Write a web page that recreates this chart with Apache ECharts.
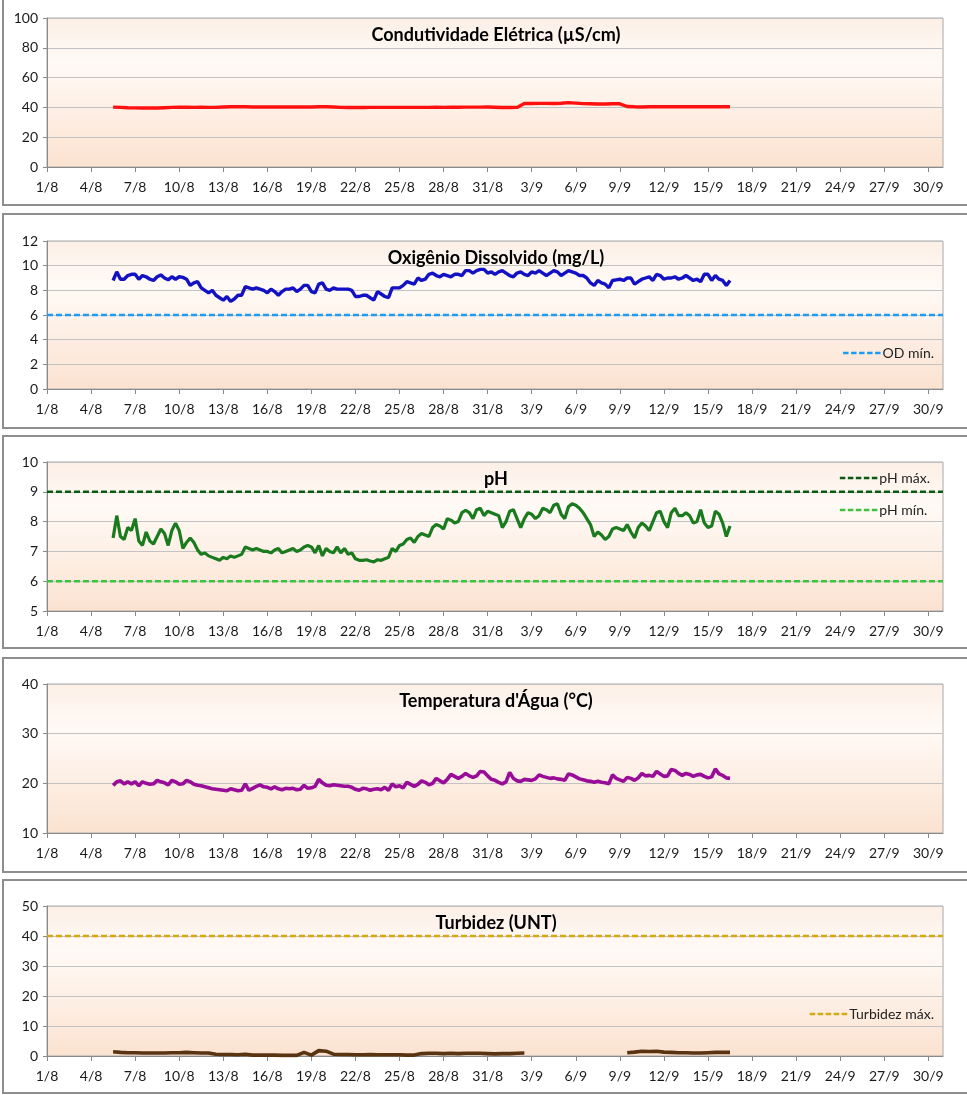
<!DOCTYPE html>
<html>
<head>
<meta charset="utf-8">
<script src="https://cdn.jsdelivr.net/npm/echarts@6/dist/echarts.min.js"></script>
<style>
html,body{margin:0;padding:0;background:#fff;}
#c{width:967px;height:1095px;}
</style>
</head>
<body>
<div id="c"></div>
<script>
// ---- Data (x = days since 1/8 00:00) ----
const X_MIN = 0, X_MAX = 61, X_INTERVAL = 3;
const X_TICK_LABELS = ['1/8','4/8','7/8','10/8','13/8','16/8','19/8','22/8','25/8','28/8','31/8','3/9','6/9','9/9','12/9','15/9','18/9','21/9','24/9','27/9','30/9'];

const TITLES = ['Condutividade Elétrica (µS/cm)','Oxigênio Dissolvido (mg/L)','pH',"Temperatura d'Água (°C)",'Turbidez (UNT)'];

// Conductivity: start day 4.5, every 0.5 day
const CE_START = 4.5, CE_STEP = 0.5;
const CE_VALUES = [
  40.2, 40.0, 39.8, 39.7, 39.6, 39.7, 39.6, 39.8, 40.0, 40.1,
  40.1, 40.0, 40.1, 40.0, 40.0, 40.3, 40.4, 40.5, 40.4, 40.3,
  40.3, 40.3, 40.3, 40.3, 40.3, 40.3, 40.3, 40.3, 40.4, 40.4,
  40.3, 40.0, 39.9, 40.0, 39.9, 40.0, 40.0, 40.0, 40.0, 40.0,
  40.0, 40.0, 40.0, 40.0, 40.1, 40.0, 40.1, 40.1, 40.2, 40.2,
  40.2, 40.3, 40.1, 39.9, 39.9, 40.0, 42.6, 42.6, 42.7, 42.7,
  42.6, 42.8, 43.2, 42.9, 42.5, 42.4, 42.3, 42.3, 42.4, 42.4,
  40.6, 40.4, 40.3, 40.4, 40.5, 40.4, 40.5, 40.4, 40.4, 40.5,
  40.4, 40.4, 40.5, 40.4, 40.4
];

// Dissolved oxygen: start day 4.5, every 0.25 day
const OD_START = 4.5, OD_STEP = 0.25;
const OD_VALUES = [
  8.8, 9.5, 8.9, 8.9,
  9.2, 9.3, 9.3, 8.9,
  9.2, 9.1, 8.9, 8.8,
  9.1, 9.25, 9.0, 8.85,
  9.1, 8.9, 9.1, 9.05,
  8.9, 8.4, 8.6, 8.7,
  8.2, 8.0, 7.8, 8.0,
  7.6, 7.4, 7.2, 7.5,
  7.1, 7.3, 7.6, 7.6,
  8.3, 8.2, 8.1, 8.2,
  8.1, 8.0, 7.8, 8.1,
  7.9, 7.6, 7.9, 8.1,
  8.1, 8.2, 7.9, 8.1,
  8.4, 8.4, 7.9, 7.8,
  8.5, 8.6, 8.1, 8.0,
  8.2, 8.1, 8.1, 8.1,
  8.1, 8.0, 7.5, 7.5,
  7.6, 7.6, 7.4, 7.2,
  7.9, 7.7, 7.5, 7.4,
  8.2, 8.2, 8.2, 8.4,
  8.7, 8.6, 8.5, 9.0,
  8.8, 8.9, 9.3, 9.4,
  9.2, 9.1, 9.3, 9.2,
  9.1, 9.3, 9.3, 9.2,
  9.6, 9.6, 9.4, 9.6,
  9.7, 9.7, 9.4, 9.5,
  9.3, 9.5, 9.6, 9.4,
  9.2, 9.1, 9.4, 9.5,
  9.3, 9.2, 9.5, 9.4,
  9.6, 9.4, 9.2, 9.4,
  9.6, 9.5, 9.2, 9.4,
  9.6, 9.5, 9.4, 9.2,
  9.2, 9.0, 8.6, 8.4,
  8.8, 8.6, 8.5, 8.2,
  8.8, 8.85, 8.9, 8.8,
  9.0, 9.0, 8.5, 8.7,
  8.9, 9.0, 9.1, 8.8,
  9.3, 9.2, 8.9, 9.0,
  9.0, 9.1, 8.9, 9.0,
  9.2, 9.0, 8.8, 8.9,
  8.7, 9.3, 9.3, 8.8,
  9.2, 8.9, 8.8, 8.4,
  8.8
];
const OD_MIN_LIMIT = 6;

// pH: start day 4.5, every 0.25 day
const PH_START = 4.5, PH_STEP = 0.25;
const PH_VALUES = [
  7.45, 8.2, 7.5, 7.4,
  7.8, 7.7, 8.1, 7.35,
  7.2, 7.65, 7.35, 7.25,
  7.5, 7.75, 7.6, 7.2,
  7.7, 7.95, 7.7, 7.1,
  7.3, 7.45, 7.3, 7.05,
  6.9, 6.95, 6.85, 6.8,
  6.75, 6.7, 6.8, 6.75,
  6.85, 6.8, 6.85, 6.9,
  7.15, 7.1, 7.05, 7.1,
  7.05, 7.0, 7.0, 6.95,
  7.05, 7.1, 6.95, 7.0,
  7.05, 7.1, 7.0, 7.05,
  7.15, 7.2, 7.15, 6.95,
  7.2, 6.85, 7.1, 7.0,
  6.95, 7.15, 6.95, 7.1,
  6.9, 6.95, 6.75, 6.7,
  6.7, 6.72, 6.68, 6.65,
  6.72, 6.7, 6.75, 6.8,
  7.1, 7.0, 7.2, 7.25,
  7.4, 7.45, 7.3, 7.5,
  7.6, 7.55, 7.5, 7.8,
  7.9, 7.85, 7.75, 8.1,
  8.05, 7.95, 8.0, 8.3,
  8.38, 8.3, 8.1, 8.4,
  8.45, 8.2, 8.35, 8.3,
  8.25, 8.2, 7.8, 8.0,
  8.35, 8.4, 8.1, 7.8,
  8.1, 8.3, 8.25, 8.1,
  8.2, 8.45, 8.4, 8.3,
  8.55, 8.6, 8.25, 8.1,
  8.5, 8.6, 8.55, 8.45,
  8.3, 8.1, 7.9, 7.5,
  7.65, 7.55, 7.4, 7.5,
  7.75, 7.8, 7.75, 7.7,
  7.9, 7.65, 7.45, 7.8,
  7.95, 7.85, 7.7, 8.0,
  8.3, 8.35, 8.0, 7.8,
  8.3, 8.45, 8.2, 8.2,
  8.3, 8.2, 7.95, 8.0,
  8.4, 7.95, 7.8, 7.85,
  8.35, 8.25, 7.95, 7.5,
  7.85
];
const PH_MAX_LIMIT = 9;
const PH_MIN_LIMIT = 6;

// Water temperature: start day 4.5, every 0.25 day
const TEMP_START = 4.5, TEMP_STEP = 0.25;
const TEMP_VALUES = [
  19.6, 20.3, 20.5, 19.9,
  20.3, 19.9, 20.3, 19.5,
  20.3, 20.0, 19.8, 19.9,
  20.6, 20.3, 20.1, 19.7,
  20.6, 20.3, 19.8, 19.9,
  20.6, 20.3, 19.8, 19.6,
  19.5, 19.3, 19.1, 18.9,
  18.8, 18.7, 18.6, 18.5,
  18.9, 18.7, 18.5, 18.6,
  19.9, 18.6, 19.0, 19.4,
  19.7, 19.3, 19.2, 18.9,
  19.3, 18.9, 18.7, 19.0,
  18.9, 19.0, 18.7, 18.8,
  19.6, 19.0, 19.1, 19.4,
  20.8, 20.1, 19.6, 19.5,
  19.7, 19.6, 19.5, 19.4,
  19.4, 19.2, 18.8, 18.6,
  19.0, 18.9, 18.6, 18.8,
  18.9, 18.7, 19.2, 18.6,
  19.9, 19.3, 19.5, 19.1,
  20.2, 19.8, 19.4, 19.8,
  20.5, 20.2, 19.7, 20.0,
  21.0, 20.5, 20.1, 20.8,
  21.8, 21.4, 21.0, 21.4,
  22.0, 21.5, 21.2, 21.5,
  22.4, 22.3, 21.5, 20.8,
  20.6, 20.2, 19.9, 20.3,
  22.2, 21.0, 20.5, 20.4,
  20.8, 20.7, 20.6, 20.9,
  21.7, 21.4, 21.2, 21.0,
  21.1, 20.9, 20.8, 20.6,
  21.9, 21.7, 21.3, 20.9,
  20.7, 20.5, 20.4, 20.2,
  20.4, 20.2, 20.1, 19.9,
  21.7, 21.0, 20.7, 20.4,
  21.2, 21.0, 20.6, 21.1,
  22.0, 21.5, 21.6, 21.4,
  22.4, 21.9, 21.4, 21.5,
  22.8, 22.6, 22.0, 21.6,
  22.0, 21.8, 21.4, 21.7,
  21.8, 21.4, 21.1, 21.3,
  22.9, 21.9, 21.6, 21.1,
  21.0
];

// Turbidity: start day 4.5, every 0.5 day (null = no data)
const TURB_START = 4.5, TURB_STEP = 0.5;
const TURB_VALUES = [
  1.4, 1.2, 1.1, 1.1, 1.0, 1.0, 1.0, 1.0, 1.1, 1.1,
  1.2, 1.1, 1.0, 1.0, 0.6, 0.5, 0.5, 0.4, 0.6, 0.3,
  0.3, 0.3, 0.3, 0.2, 0.2, 0.2, 1.2, 0.3, 1.8, 1.6,
  0.6, 0.5, 0.5, 0.4, 0.4, 0.5, 0.4, 0.4, 0.4, 0.4,
  0.3, 0.3, 0.8, 0.9, 0.9, 0.8, 0.9, 0.8, 0.9, 0.9,
  0.9, 0.8, 0.7, 0.8, 0.8, 0.9, 1.0, null, null, null,
  null, null, null, null, null, null, null, null, null, null,
  1.1, 1.3, 1.6, 1.5, 1.6, 1.3, 1.2, 1.1, 1.1, 1.0,
  1.0, 1.1, 1.2, 1.2, 1.2
];
const TURB_MAX_LIMIT = 40;

// ---- helpers ----
function toPairs(start, step, values) {
  return values.map((v, i) => [start + i * step, v]);
}
function limitLine(v) { return [[X_MIN, v], [X_MAX, v]]; }

const FONT = "Lato, 'Open Sans', sans-serif";
const chart = echarts.init(document.getElementById('c'), null, {renderer: 'canvas'});

const plotBg = new echarts.graphic.LinearGradient(0, 0, 0, 1, [
  {offset: 0, color: '#fcefe6'},
  {offset: 0.3, color: '#fffaf6'},
  {offset: 1, color: '#fbe2d0'}
]);

const GRIDS = [
  {top: 18, height: 149},
  {top: 241, height: 148},
  {top: 462, height: 149},
  {top: 684, height: 149},
  {top: 906, height: 150}
];
const Y_AXES = [
  {min: 0, max: 100, interval: 20},
  {min: 0, max: 12, interval: 2},
  {min: 5, max: 10, interval: 1},
  {min: 10, max: 40, interval: 10},
  {min: 0, max: 50, interval: 10}
];
const FRAMES = [
  [3, -3, 970, 208],
  [3, 214, 970, 214],
  [3, 436, 970, 212],
  [3, 658, 970, 214],
  [3, 880, 970, 213]
];
// dashed-line legend sample (5 dashes)
const DASH_ICON = 'path://M0 0h5.5v2.5H0zM8 0h5.5v2.5H8zM16 0h5.5v2.5H16zM24 0h5.5v2.5H24zM32 0h5.5v2.5H32z';
const legendBase = {
  icon: DASH_ICON, itemWidth: 37.5, itemHeight: 2.5, symbolKeepAspect: true,
  textStyle: {fontFamily: FONT, fontSize: 14, color: '#222', padding: [0, 0, 0, -3]}
};

const option = {
  animation: false,
  backgroundColor: '#ffffff',
  graphic: FRAMES.map(f => ({
    type: 'rect', silent: true, z: -10,
    shape: {x: f[0], y: f[1], width: f[2], height: f[3]},
    style: {fill: 'none', stroke: '#8e8e8e', lineWidth: 2}
  })),
  title: TITLES.map((t, i) => ({
    text: t, left: 491, top: GRIDS[i].top + 3, textAlign: 'center',
    textStyle: {fontFamily: FONT, fontWeight: 'bold', fontSize: 18, color: '#000'}
  })),
  grid: GRIDS.map(g => ({
    left: 47, right: 24, top: g.top, height: g.height, show: true,
    backgroundColor: plotBg, borderColor: '#a8a8a8', borderWidth: 1
  })),
  xAxis: GRIDS.map((g, i) => ({
    type: 'value', gridIndex: i, min: X_MIN, max: X_MAX, interval: X_INTERVAL,
    axisLine: {show: true, lineStyle: {color: '#8a8a8a', width: 1}},
    axisTick: {show: true, length: 5, lineStyle: {color: '#8a8a8a'}},
    splitLine: {show: false},
    axisLabel: {
      show: true, margin: 13, color: '#1a1a1a', fontSize: 14, fontFamily: FONT,
      showMaxLabel: false,
      formatter: v => (v % X_INTERVAL === 0 ? (X_TICK_LABELS[v / X_INTERVAL] || '') : '')
    }
  })),
  yAxis: Y_AXES.map((a, i) => ({
    type: 'value', gridIndex: i, min: a.min, max: a.max, interval: a.interval,
    axisLine: {show: true, lineStyle: {color: '#8a8a8a', width: 1}},
    axisTick: {show: true, length: 4, lineStyle: {color: '#8a8a8a'}},
    splitLine: {show: true, lineStyle: {color: '#c2c2c2', width: 1}},
    axisLabel: {margin: 9, color: '#1a1a1a', fontSize: 14, fontFamily: FONT}
  })),
  legend: [
    Object.assign({data: ['OD mín.'], right: 28, top: 341}, legendBase),
    Object.assign({data: ['pH máx.', 'pH mín.'], orient: 'vertical', right: 32, top: 466, itemGap: 18}, legendBase),
    Object.assign({data: ['Turbidez máx.'], right: 28, top: 1002}, legendBase)
  ],
  series: [
    {name: 'Condutividade', type: 'line', xAxisIndex: 0, yAxisIndex: 0, symbol: 'none',
     data: toPairs(CE_START, CE_STEP, CE_VALUES), lineStyle: {color: '#ff1010', width: 3.4}, z: 5},

    {name: 'OD mín.', type: 'line', xAxisIndex: 1, yAxisIndex: 1, symbol: 'none',
     data: limitLine(OD_MIN_LIMIT), itemStyle: {color: '#1f9cf0'},
     lineStyle: {color: '#1f9cf0', width: 2.5, type: [6, 3]}, z: 3},
    {name: 'OD', type: 'line', xAxisIndex: 1, yAxisIndex: 1, symbol: 'none',
     data: toPairs(OD_START, OD_STEP, OD_VALUES), lineStyle: {color: '#1212c4', width: 3.4}, z: 5},

    {name: 'pH máx.', type: 'line', xAxisIndex: 2, yAxisIndex: 2, symbol: 'none',
     data: limitLine(PH_MAX_LIMIT), itemStyle: {color: '#0b5a12'},
     lineStyle: {color: '#0b5a12', width: 2.5, type: [6, 3]}, z: 3},
    {name: 'pH mín.', type: 'line', xAxisIndex: 2, yAxisIndex: 2, symbol: 'none',
     data: limitLine(PH_MIN_LIMIT), itemStyle: {color: '#3cc23c'},
     lineStyle: {color: '#3cc23c', width: 2.5, type: [6, 3]}, z: 3},
    {name: 'pH', type: 'line', xAxisIndex: 2, yAxisIndex: 2, symbol: 'none',
     data: toPairs(PH_START, PH_STEP, PH_VALUES), lineStyle: {color: '#1a7a1e', width: 3.2}, z: 5},

    {name: 'Temperatura', type: 'line', xAxisIndex: 3, yAxisIndex: 3, symbol: 'none',
     data: toPairs(TEMP_START, TEMP_STEP, TEMP_VALUES), lineStyle: {color: '#980c98', width: 3.6}, z: 5},

    {name: 'Turbidez máx.', type: 'line', xAxisIndex: 4, yAxisIndex: 4, symbol: 'none',
     data: limitLine(TURB_MAX_LIMIT), itemStyle: {color: '#d6a816'},
     lineStyle: {color: '#d6a816', width: 2.5, type: [6, 3]}, z: 3},
    {name: 'Turbidez', type: 'line', xAxisIndex: 4, yAxisIndex: 4, symbol: 'none', connectNulls: false,
     data: toPairs(TURB_START, TURB_STEP, TURB_VALUES), lineStyle: {color: '#5a3310', width: 3.6}, z: 5}
  ]
};
chart.setOption(option);
</script>
</body>
</html>
